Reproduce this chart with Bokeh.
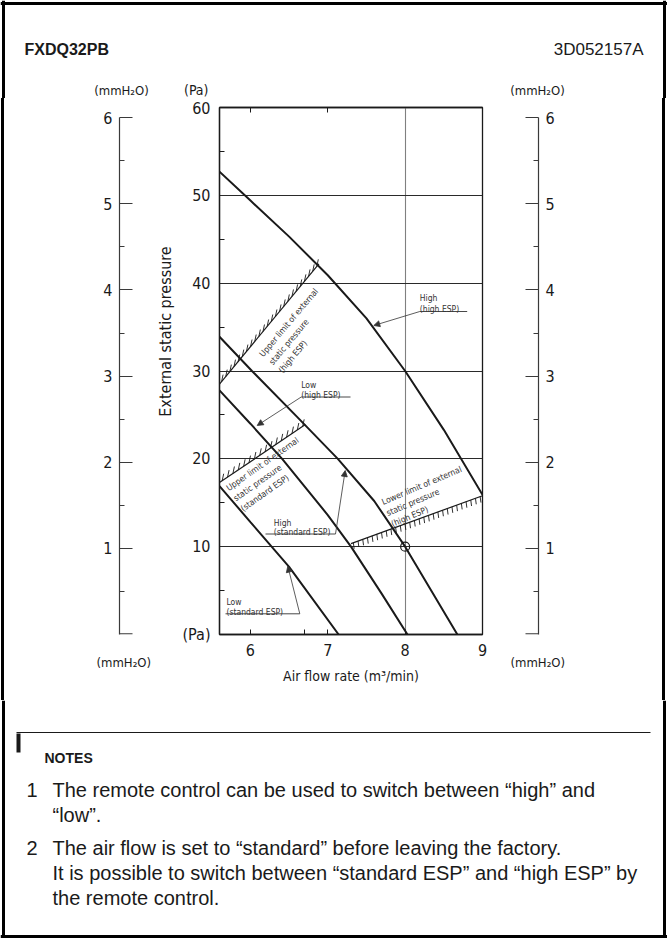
import math
import numpy as np
from bokeh.plotting import figure
from bokeh.models import Range1d, LinearAxis, FixedTicker, Label, Arrow, NormalHead, Title, Spacer
from bokeh.layouts import row, column
from bokeh.embed import file_html
from bokeh.resources import INLINE

# ------------------------------------------------------------------ data
# fan curves : air flow rate (m3/min) -> external static pressure (Pa)
low_std_flow = [5.6, 6.0, 6.5, 7.14]
low_std_esp = [16.9, 12.8, 7.7, 0.0]
high_std_flow = [5.6, 6.02, 6.6, 7.13, 7.6, 8.0, 8.675]
high_std_esp = [33.9, 30.0, 24.8, 20.0, 15.2, 10.0, 0.0]
low_hesp_flow = [5.6, 6.0, 6.41, 7.0, 7.3, 7.7, 8.03]
low_hesp_esp = [27.8, 24.0, 20.0, 13.6, 10.0, 4.6, 0.0]
high_hesp_flow = [5.6, 6.0, 6.5, 7.0, 7.5, 8.0, 8.5, 9.0]
high_hesp_esp = [52.7, 49.4, 45.3, 40.9, 36.0, 30.0, 23.3, 15.9]

# limit lines of external static pressure
upper_hesp_flow = [5.6, 6.885]
upper_hesp_esp = [28.5, 42.2]
upper_std_flow = [5.6, 6.71]
upper_std_esp = [17.3, 23.9]
lower_hesp_flow = [7.3, 9.0]
lower_hesp_esp = [10.35, 15.8]

rated_flow = [8.0]
rated_esp = [10.0]

x_ticks = [6, 7, 8, 9]
x_minor_ticks = [6.7]
x_top_ticks = [6, 7]
pa_ticks = [0, 10, 20, 30, 40, 50, 60]
pa_minor_ticks = [5, 15, 25, 35, 45, 55]
pa_grid = [10, 20, 30, 40, 50]
flow_grid = [8]
mm_ticks = [1, 2, 3, 4, 5, 6]
mm_minor_ticks = [0.5, 1.5, 2.5, 3.5, 4.5, 5.5]
mm_base = [0]
PA_PER_MMH2O = 9.80665

notes = [
    ("1", ["The remote control can be used to switch between \u201chigh\u201d and",
           "\u201clow\u201d."]),
    ("2", ["The air flow is set to \u201cstandard\u201d before leaving the factory.",
           "It is possible to switch between \u201cstandard ESP\u201d and \u201chigh ESP\u201d by",
           "the remote control."]),
]

# ------------------------------------------------------------------ style
FONT_N = "DejaVu Sans Condensed, Liberation Sans"
FONT = "Liberation Sans"
INK = "#1a1a1a"
TXT = "#333333"
AX = "#3a3a3a"

X_MIN, X_MAX = 5.6, 9.0
Y_MIN, Y_MAX = 0.0, 60.0
MM_MAX = Y_MAX / PA_PER_MMH2O

# page geometry (px)
HEAD_H = 98
ROW_TOP, ROW_BOT = 98, 700
ROW_H = ROW_BOT - ROW_TOP
NOTE_H = 939 - ROW_BOT
F_T, F_B = 107, 634
FM_L, FM_R = 219, 482
FL_L, FL_R = 119, 176
FR_L, FR_R = 490, 538
PXX = (FM_R - FM_L) / (X_MAX - X_MIN)
PXY = (F_B - F_T) / (Y_MAX - Y_MIN)
PXY_MM = (F_B - F_T) / MM_MAX
BORDER_W = 3


def M(px, py):
    return X_MIN + (px - FM_L) / PXX, (F_B - py) / PXY


def L(px, py):
    return (px - FL_L) / (FL_R - FL_L), (F_B - py) / PXY_MM


def H(px, py):
    return px, HEAD_H - py


def N(px, py):
    return px, 939 - py


def add_label(p, pos, text, size="8.5px", font=FONT_N, color=TXT, align="left",
              baseline="alphabetic", angle=0.0, style="normal"):
    x, y = pos
    p.add_layout(Label(x=x, y=y, text=text, text_font=font, text_font_size=size,
                       text_color=color, text_align=align, text_baseline=baseline,
                       angle=angle, text_font_style=style))


def blank_fig(w, h, xr, yr):
    p = figure(width=w, height=h, x_range=Range1d(*xr), y_range=Range1d(*yr),
               output_backend="svg", toolbar_location=None, title=None,
               x_axis_location=None, y_axis_location=None, min_border=0)
    p.background_fill_color = "white"
    p.border_fill_color = "white"
    p.outline_line_color = None
    p.grid.visible = False
    return p


# ------------------------------------------------------------------ header strip
ph = blank_fig(667, HEAD_H, (0, 667), (0, HEAD_H))
for (x0, y0), (x1, y1) in [(H(0, 3), H(667, 3)), (H(3, 0), H(3, HEAD_H)),
                           (H(664, 0), H(664, HEAD_H))]:
    ph.line([x0, x1], [y0, y1], line_color="black", line_width=BORDER_W)
add_label(ph, H(24, 49), "FXDQ32PB", size="16px", font=FONT, color=INK,
          baseline="middle", style="bold")
add_label(ph, H(643, 49), "3D052157A", size="17px", font=FONT, color=INK,
          align="right", baseline="middle")
add_label(ph, H(121, 89.5), "(mmH\u2082O)", size="13px", color=INK, align="center", baseline="middle")
add_label(ph, H(537, 89.5), "(mmH\u2082O)", size="13px", color=INK, align="center", baseline="middle")
add_label(ph, H(208, 89.5), "(Pa)", size="14px", color=INK, align="right", baseline="middle")

# ------------------------------------------------------------------ border strips (row part)
pbl = Spacer(width=8, height=ROW_H, styles={
    "background": "linear-gradient(90deg, #ffffff 1.5px, #000000 1.5px, #000000 4.5px, #ffffff 4.5px)"})
pbr = Spacer(width=8, height=ROW_H, styles={
    "background": "linear-gradient(90deg, #ffffff 3.5px, #000000 3.5px, #000000 6.5px, #ffffff 6.5px)"})

# ------------------------------------------------------------------ main chart
pm = figure(width=FM_R + 8 - FL_R, height=ROW_H, x_range=Range1d(X_MIN, X_MAX),
            y_range=Range1d(Y_MIN, Y_MAX), output_backend="svg", toolbar_location=None,
            title=None, min_border_left=FM_L - FL_R, min_border_right=8,
            min_border_top=F_T - ROW_TOP, min_border_bottom=ROW_BOT - F_B)
pm.background_fill_color = "white"
pm.border_fill_color = "white"
pm.outline_line_color = INK
pm.outline_line_width = 1.3
pm.outline_line_alpha = 1.0

pm.xgrid.ticker = FixedTicker(ticks=flow_grid)
pm.xgrid.grid_line_color = "#808080"
pm.xgrid.grid_line_width = 1.1
pm.ygrid.ticker = FixedTicker(ticks=pa_grid)
pm.ygrid.grid_line_color = "#2a2a2a"
pm.ygrid.grid_line_width = 1.1

xa = pm.xaxis[0]
xa.ticker = FixedTicker(ticks=x_ticks, minor_ticks=x_minor_ticks)
xa.major_tick_in = 5
xa.major_tick_out = 0
xa.minor_tick_in = 5
xa.minor_tick_out = 0
xa.axis_line_color = INK
xa.axis_line_width = 1.3
xa.major_tick_line_color = INK
xa.minor_tick_line_color = INK
xa.major_label_standoff = 9
xa.major_label_text_font = FONT_N
xa.major_label_text_font_size = "16px"
xa.major_label_text_color = INK
xa.axis_label = "Air flow rate (m\u00b3/min)"
xa.axis_label_text_font = FONT_N
xa.axis_label_text_font_size = "14px"
xa.axis_label_text_font_style = "normal"
xa.axis_label_text_color = INK
xa.axis_label_standoff = 9

ta = LinearAxis(ticker=FixedTicker(ticks=[], minor_ticks=x_top_ticks), major_tick_in=0,
                major_tick_out=0, minor_tick_in=5, minor_tick_out=0,
                axis_line_color=INK, axis_line_width=1.3, minor_tick_line_color=INK,
                major_label_standoff=0)
pm.add_layout(ta, "above")

ya = pm.yaxis[0]
ya.ticker = FixedTicker(ticks=pa_ticks, minor_ticks=pa_minor_ticks)
ya.major_tick_in = 0
ya.major_tick_out = 0
ya.minor_tick_in = 5
ya.minor_tick_out = 0
ya.axis_line_color = INK
ya.axis_line_width = 1.3
ya.minor_tick_line_color = INK
ya.major_label_overrides = {0: "(Pa)"}
ya.major_label_standoff = 9
ya.major_label_text_font = FONT_N
ya.major_label_text_font_size = "16px"
ya.major_label_text_color = INK

# fan curves
for fx, fy in [(low_std_flow, low_std_esp), (high_std_flow, high_std_esp),
               (low_hesp_flow, low_hesp_esp), (high_hesp_flow, high_hesp_esp)]:
    pm.line(fx, fy, line_color=INK, line_width=2.0)


# limit lines with hatching
def hatched(p, fx, fy, n, length_px, direction, lean_px):
    p.line(fx, fy, line_color=INK, line_width=1.2)
    t = (np.arange(n) + 0.5) / n
    x0 = fx[0] + (fx[1] - fx[0]) * t
    y0 = fy[0] + (fy[1] - fy[0]) * t
    x1 = x0 + lean_px / PXX
    y1 = y0 + direction * length_px / PXY
    p.segment(x0, y0, x1, y1, line_color=INK, line_width=0.9)


hatched(pm, upper_hesp_flow, upper_hesp_esp, 24, 7, +1, 1.5)
hatched(pm, upper_std_flow, upper_std_esp, 16, 7, +1, 1.5)
hatched(pm, lower_hesp_flow, lower_hesp_esp, 28, 6, -1, 0.8)

pm.scatter(rated_flow, rated_esp, marker="circle", size=9, fill_color=None,
           line_color=INK, line_width=1.2)

# rotated limit texts
groups = [
    (50, [(260.5, 355.0), (270.1, 363.0), (279.6, 371.1)],
     ["Upper limit of external", "static pressure", "(high ESP)"]),
    (35, [(226.7, 488.3), (233.9, 498.5), (241.1, 508.7)],
     ["Upper limit of external", "static pressure", "(standard ESP)"]),
    (23, [(381.7, 501.7), (386.4, 512.7), (391.1, 523.7)],
     ["Lower limit of external", "static pressure", "(high ESP)"]),
]
for ang, starts, lines in groups:
    for (sx, sy), txt in zip(starts, lines):
        add_label(pm, M(sx, sy), txt, angle=math.radians(ang))

# leader labels: text lines (baselines), underline, arrow
leaders = [
    (["High", "(high ESP)"], (419.3, [297.0, 308.5]), (419.3, 466.7, 311.0), (419.3, 311.0, 373.3, 325.0)),
    (["Low", "(high ESP)"], (300.7, [384.0, 394.0]), (300.7, 350.0, 396.5), (300.7, 396.5, 256.7, 425.0)),
    (["High", "(standard ESP)"], (273.3, [522.0, 531.5]), (265.0, 335.0, 533.5), (335.0, 533.5, 344.7, 470.0)),
    (["Low", "(standard ESP)"], (226.0, [601.0, 611.0]), (225.0, 299.3, 613.3), (299.3, 613.3, 287.3, 565.7)),
]
for texts, (tx, tys), (ux0, ux1, uy), (ax0, ay0, ax1, ay1) in leaders:
    for txt, ty in zip(texts, tys):
        add_label(pm, M(tx, ty), txt)
    a0 = M(ux0, uy)
    a1 = M(ux1, uy)
    pm.line([a0[0], a1[0]], [a0[1], a1[1]], line_color=TXT, line_width=0.9)
    s = M(ax0, ay0)
    e = M(ax1, ay1)
    pm.add_layout(Arrow(end=NormalHead(size=6, fill_color=TXT, line_color=TXT, line_width=0.8),
                        x_start=s[0], y_start=s[1], x_end=e[0], y_end=e[1],
                        line_color=TXT, line_width=0.8))


# ------------------------------------------------------------------ mmH2O scales
def mm_fig(width, loc, mb_left, mb_right):
    p = figure(width=width, height=ROW_H, x_range=Range1d(0, 1),
               y_range=Range1d(0, MM_MAX), output_backend="svg",
               toolbar_location=None, title=None, x_axis_location=None, y_axis_location=loc,
               min_border_left=mb_left, min_border_right=mb_right,
               min_border_top=F_T - ROW_TOP, min_border_bottom=ROW_BOT - F_B)
    p.background_fill_color = "white"
    p.border_fill_color = "white"
    p.outline_line_color = None
    p.grid.visible = False
    ax = p.yaxis[0]
    ax.ticker = FixedTicker(ticks=mm_ticks, minor_ticks=mm_minor_ticks)
    ax.bounds = (0, 6)
    ax.major_tick_in = 13
    ax.major_tick_out = 0
    ax.minor_tick_in = 5
    ax.minor_tick_out = 0
    ax.axis_line_color = AX
    ax.axis_line_width = 1.2
    ax.major_tick_line_color = AX
    ax.minor_tick_line_color = AX
    ax.major_label_standoff = 7
    ax.major_label_text_font = FONT_N
    ax.major_label_text_font_size = "16px"
    ax.major_label_text_color = INK
    return p


pl = mm_fig(FL_R - 8, "left", FL_L - 8, 0)
pr = mm_fig(659 - FR_L, "right", 0, 659 - FR_R)
tick_w_l = 13 / (FL_R - FL_L)
tick_w_r = 13 / (FR_R - FR_L)
base_lift = 0.7 / PXY_MM   # keep the zero tick inside the frame edge
pl.segment([0], [v + base_lift for v in mm_base], [tick_w_l], [v + base_lift for v in mm_base],
           line_color=AX, line_width=1.2)
pr.segment([1 - tick_w_r], [v + base_lift for v in mm_base], [1], [v + base_lift for v in mm_base],
           line_color=AX, line_width=1.2)

add_label(pl, L(165, 331), "External static pressure", size="16px", color=INK,
          align="center", baseline="middle", angle=math.pi / 2)

pl.add_layout(Title(text="(mmH\u2082O)", align="left", offset=-23, standoff=39,
                    vertical_align="middle", text_font=FONT_N, text_font_size="13px",
                    text_font_style="normal", text_color=INK), "below")
pr.add_layout(Title(text="(mmH\u2082O)", align="left", offset=20, standoff=39,
                    vertical_align="middle", text_font=FONT_N, text_font_size="13px",
                    text_font_style="normal", text_color=INK), "below")

# ------------------------------------------------------------------ notes
pn = blank_fig(667, NOTE_H, (0, 667), (0, NOTE_H))
for (x0, y0), (x1, y1) in [(N(3, 700), N(3, 936)), (N(664, 700), N(664, 936)),
                           (N(0, 936), N(667, 936))]:
    pn.line([x0, x1], [y0, y1], line_color="black", line_width=BORDER_W)
r0 = N(16, 732)
r1 = N(650, 732)
pn.line([r0[0], r1[0]], [r0[1], r1[1]], line_color=INK, line_width=1.2)
b0 = N(16, 752)
b1 = N(20, 733)
pn.quad(left=[b0[0]], right=[b1[0]], bottom=[b0[1]], top=[b1[1]], fill_color=INK, line_color=None)
add_label(pn, N(44, 757), "NOTES", size="14px", font=FONT, color=INK, baseline="middle", style="bold")

line_ys = [[789, 814], [847, 872, 897]]
for (num, lines), ys in zip(notes, line_ys):
    add_label(pn, N(26, ys[0]), num, size="20px", font=FONT, color=INK, baseline="middle")
    for txt, yy in zip(lines, ys):
        add_label(pn, N(52, yy), txt, size="20px", font=FONT, color=INK, baseline="middle")

layout = column(ph, row(pbl, pl, pm, pr, pbr, spacing=0), pn, spacing=0)

open("out.html", "w").write(file_html(layout, INLINE))
